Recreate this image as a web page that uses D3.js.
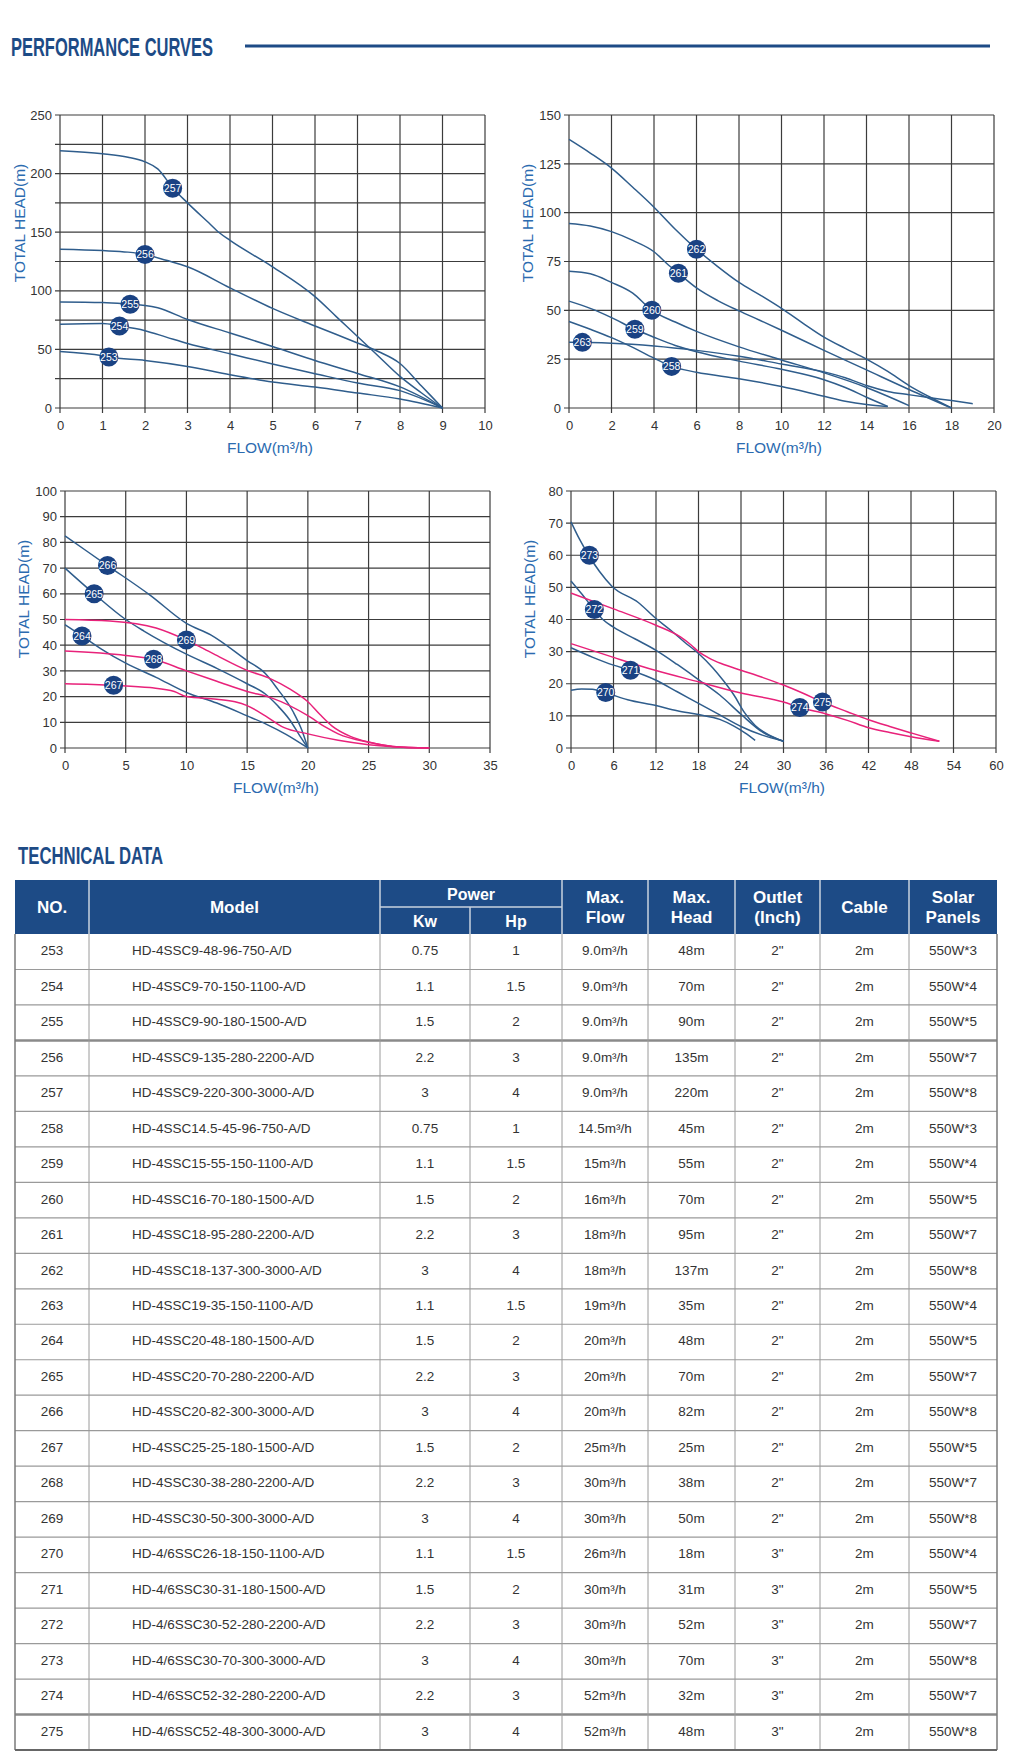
<!DOCTYPE html>
<html><head><meta charset="utf-8">
<script src="https://cdn.jsdelivr.net/npm/d3@7/dist/d3.min.js"></script>
<style>body{margin:0;background:#fff}svg{display:block}</style>
</head><body>
<script>
// ---------- DATA ----------
// Chart 1 (flow 0-10, head 0-250)
const c253 = [[0,48.3],[1,44.6],[1.15,43.5],[2,40.6],[3,35.5],[4,28.4],[5,22.2],[6,17.9],[7,12.8],[8,7.7],[9,0]];
const c254 = [[0,71.5],[1,72],[1.4,70],[2,66],[2.5,60.5],[3,55],[4,46.3],[5,37.5],[6,29.3],[7,21.3],[8,14.8],[9,0]];
const c255 = [[0,90.5],[1,90],[1.65,88.5],[2,87.5],[2.3,85.5],[3,75.5],[4,64],[5,52.5],[6,40.5],[7,29.5],[8,18],[9,0]];
const c256 = [[0,135.5],[1,134.3],[1.6,133],[2,131],[2.5,126],[3,120.5],[4,102.5],[5,85],[6,70],[7,55.5],[7.5,48],[8,38],[8.5,19],[9,0]];
const c257 = [[0,219.5],[1,217],[1.6,214],[2,210],[2.3,204],[2.65,188],[3,175],[3.5,158],[3.75,149.5],[4,143],[5,120.5],[6,95],[6.5,78],[7,61],[7.5,44],[8,27],[8.5,13],[9,0]];
// Chart 2 (flow 0-20, head 0-150)
const c258 = [[0,44.3],[1,40.3],[2,36],[3,31],[4,25.5],[4.83,21.3],[6,18.3],[8,15],[10,11],[12,6],[13,3.5],[14,1.8],[15,0.8]];
const c259 = [[0,54.7],[1,51],[2,46.3],[3.1,40.3],[4,36.2],[5,32],[6,28.8],[8,24],[10,19.8],[12,14.5],[13,10.5],[14,5.5],[15,0.8]];
const c260 = [[0,70],[1,68.7],[2,64.3],[3,58.8],[3.9,50],[5,44],[6,39.2],[8,31.3],[10,24.6],[12,18],[14,10.5],[15,6],[16,1.2]];
const c261 = [[0,94.5],[1,93.2],[2,90.3],[3,85.8],[4,80],[4.6,74],[5.15,69],[6,61.5],[7,55],[8,49.7],[9,44.8],[10,39.8],[12,29.5],[14,19.5],[16,9.5],[18,0]];
const c262 = [[0,137.5],[1,130.5],[2,122.8],[3,113],[4,102.8],[5,91.5],[6,81.3],[7,72.4],[8,64.3],[9,57.8],[10,51],[11,43.5],[12,36.3],[13,30.5],[14,25],[15,18.7],[16,11.5],[17,5.5],[18,0]];
const c263 = [[0,33.6],[1,33.5],[2,33.2],[4,31.8],[6,29.5],[8,26.5],[10,22.5],[12,18.5],[13,15.5],[14,11.5],[15,8.5],[16,6.8],[17,5.2],[18,3.8],[19,2.2]];
// Chart 3 (flow 0-35, head 0-100)
const c264 = [[0,48],[1.4,43.6],[3,38.5],[5,33],[7.5,27.5],[10,21.6],[12.5,17.5],[15,12.5],[16.6,9.2],[18.2,5.3],[20,0]];
const c265 = [[0,70],[2.4,60],[5,50],[6.5,45.5],[10,36.5],[12.5,31],[15,25],[16.5,21],[17.5,16.5],[18.5,11],[19.3,5],[20,0]];
const c266 = [[0,82.5],[3.5,71],[7,59.5],[10,48.5],[12,44],[15,34],[16.5,29],[17.5,23],[18.8,14],[19.5,7],[20,0]];
const c267 = [[0,25],[4,24.4],[7,23.5],[9,22],[10,20],[12.5,19],[14,18],[15,16.5],[16.5,12.5],[18,8],[20,5.5],[22.5,3],[25,1.3],[27,0.5],[30,0]];
const c268 = [[0,37.7],[5,36],[7.3,34.5],[10,30],[12.5,26],[15,22],[17,19.5],[20,12.6],[21.5,8],[22.5,5.5],[25,2.2],[27,0.6],[30,0]];
const c269 = [[0,50],[3.7,49.4],[7.5,46.7],[10,42],[12.2,36.7],[15,30.2],[16.9,27],[18.5,23],[20,18],[21,13],[22,8.5],[23.5,4.5],[25,2.3],[27,0.6],[30,0]];
// Chart 4 (flow 0-60, head 0-80)
const c270 = [[0,18],[1.5,18.4],[3,18.3],[4.9,17.2],[8,15],[12,13.2],[15,11.6],[18,10.4],[21,8.9],[23,6.8],[24.5,4.8],[26,2.4]];
const c271 = [[0,31.2],[3,28.3],[6,25.8],[8.4,24.2],[12,21.1],[15,17.5],[18,13.9],[21,10.3],[24,6.7],[27,4],[30,2.1]];
const c272 = [[0,52],[1.5,48],[3.3,43],[4.5,40],[6,37.6],[9,34],[12,30.4],[15,26],[18,21.3],[21,16.5],[24,10.5],[27,5],[30,2.1]];
const c273 = [[0,70.4],[1.2,65],[2.5,60],[4,55],[5.8,50.3],[9.5,45.3],[12,40.3],[14,36.8],[16,33],[18,29.4],[20,25],[21.5,21],[23,16.5],[24.5,11],[26,7],[28,4],[30,2.1]];
const c274 = [[0,32.5],[6,28.2],[12,24.1],[18,20.6],[24,17.1],[30,14.3],[32.3,12.6],[36,10.6],[39,8.6],[42,6.3],[45,4.8],[48,3.5],[52,2.1]];
const c275 = [[0,48.2],[6,43.3],[12,38.2],[15.5,34.5],[17,32],[18,30],[19.5,28],[21.2,26.3],[24,24.2],[27,22],[30,19.6],[33,16.8],[35.5,14.3],[39,11.3],[42,8.8],[45,6.7],[48,4.7],[52,2.1]];

// curve label bubbles: [model no, flow, head]
const labels1 = [[257,2.65,187.5],[256,2.0,131],[255,1.65,88.5],[254,1.4,70],[253,1.15,43.5]];
const labels2 = [[262,6.0,81.3],[261,5.15,69],[260,3.9,50],[259,3.1,40.3],[263,0.63,33.6],[258,4.83,21.3]];
const labels3 = [[266,3.5,71],[265,2.4,60],[264,1.4,43.6],[269,10,42],[268,7.3,34.5],[267,4,24.4]];
const labels4 = [[273,2.6,60],[272,3.3,43.1],[271,8.4,24.2],[270,4.9,17.3],[274,32.3,12.6],[275,35.5,14.3]];

// axis ticks
const xTicks1 = [0,1,2,3,4,5,6,7,8,9,10];
const yGrid1 = [0,25,50,75,100,125,150,175,200,225,250];
const yTicks1 = [0,50,100,150,200,250];
const xTicks2 = [0,2,4,6,8,10,12,14,16,18,20];
const yTicks2 = [0,25,50,75,100,125,150];
const xTicks3 = [0,5,10,15,20,25,30,35];
const yTicks3 = [0,10,20,30,40,50,60,70,80,90,100];
const xTicks4 = [0,6,12,18,24,30,36,42,48,54,60];
const yTicks4 = [0,10,20,30,40,50,60,70,80];

// table columns
const tableNo = [253,254,255,256,257,258,259,260,261,262,263,264,265,266,267,268,269,270,271,272,273,274,275];
const tableModel = ["HD-4SSC9-48-96-750-A/D","HD-4SSC9-70-150-1100-A/D","HD-4SSC9-90-180-1500-A/D","HD-4SSC9-135-280-2200-A/D","HD-4SSC9-220-300-3000-A/D","HD-4SSC14.5-45-96-750-A/D","HD-4SSC15-55-150-1100-A/D","HD-4SSC16-70-180-1500-A/D","HD-4SSC18-95-280-2200-A/D","HD-4SSC18-137-300-3000-A/D","HD-4SSC19-35-150-1100-A/D","HD-4SSC20-48-180-1500-A/D","HD-4SSC20-70-280-2200-A/D","HD-4SSC20-82-300-3000-A/D","HD-4SSC25-25-180-1500-A/D","HD-4SSC30-38-280-2200-A/D","HD-4SSC30-50-300-3000-A/D","HD-4/6SSC26-18-150-1100-A/D","HD-4/6SSC30-31-180-1500-A/D","HD-4/6SSC30-52-280-2200-A/D","HD-4/6SSC30-70-300-3000-A/D","HD-4/6SSC52-32-280-2200-A/D","HD-4/6SSC52-48-300-3000-A/D"];
const tableKw = ["0.75","1.1","1.5","2.2","3","0.75","1.1","1.5","2.2","3","1.1","1.5","2.2","3","1.5","2.2","3","1.1","1.5","2.2","3","2.2","3"];
const tableHp = ["1","1.5","2","3","4","1","1.5","2","3","4","1.5","2","3","4","2","3","4","1.5","2","3","4","3","4"];
const tableFlow = ["9.0m³/h","9.0m³/h","9.0m³/h","9.0m³/h","9.0m³/h","14.5m³/h","15m³/h","16m³/h","18m³/h","18m³/h","19m³/h","20m³/h","20m³/h","20m³/h","25m³/h","30m³/h","30m³/h","26m³/h","30m³/h","30m³/h","30m³/h","52m³/h","52m³/h"];
const tableHead = ["48m","70m","90m","135m","220m","45m","55m","70m","95m","137m","35m","48m","70m","82m","25m","38m","50m","18m","31m","52m","70m","32m","48m"];
const tableOutlet = ["2\"","2\"","2\"","2\"","2\"","2\"","2\"","2\"","2\"","2\"","2\"","2\"","2\"","2\"","2\"","2\"","2\"","3\"","3\"","3\"","3\"","3\"","3\""];
const tableCable = tableNo.map(() => "2m");
const tableSolar = ["550W*3","550W*4","550W*5","550W*7","550W*8","550W*3","550W*4","550W*5","550W*7","550W*8","550W*4","550W*5","550W*7","550W*8","550W*5","550W*7","550W*8","550W*4","550W*5","550W*7","550W*8","550W*7","550W*8"];

// ---------- DRAWING ----------
const W = 1009, H = 1764;
const NAVY = "#1d4b86", BLUE = "#2f5d8c", PINK = "#e8227a", TITLEBLUE = "#2b6bb0";
const svg = d3.select("body").append("svg").attr("width", W).attr("height", H);

// Section title
svg.append("text").attr("x", 11).attr("y", 56).text("PERFORMANCE CURVES")
  .attr("font-family", "Liberation Sans Narrow, Arial Narrow, sans-serif").attr("font-weight", "bold")
  .attr("font-size", 25).attr("fill", NAVY).attr("textLength", 202).attr("lengthAdjust", "spacingAndGlyphs");
svg.append("line").attr("x1", 245).attr("x2", 990).attr("y1", 46).attr("y2", 46)
  .attr("stroke", NAVY).attr("stroke-width", 3);

const charts = [
  {left:60, right:485, top:115, bottom:408, xMax:10, yMax:250, xTicks:xTicks1, yGrid:yGrid1, yTicks:yTicks1,
   series:[[c253,BLUE],[c254,BLUE],[c255,BLUE],[c256,BLUE],[c257,BLUE]], labels:labels1, ytx:19, yty:223, xtx:270, xty:447},
  {left:569, right:994, top:115, bottom:408, xMax:20, yMax:150, xTicks:xTicks2, yGrid:yTicks2, yTicks:yTicks2,
   series:[[c258,BLUE],[c259,BLUE],[c260,BLUE],[c261,BLUE],[c262,BLUE],[c263,BLUE]], labels:labels2, ytx:527, yty:223, xtx:779, xty:447},
  {left:65, right:490, top:491, bottom:748, xMax:35, yMax:100, xTicks:xTicks3, yGrid:yTicks3, yTicks:yTicks3,
   series:[[c264,BLUE],[c265,BLUE],[c266,BLUE],[c267,PINK],[c268,PINK],[c269,PINK]], labels:labels3, ytx:23, yty:599, xtx:276, xty:787},
  {left:571, right:996, top:491, bottom:748, xMax:60, yMax:80, xTicks:xTicks4, yGrid:yTicks4, yTicks:yTicks4,
   series:[[c270,BLUE],[c271,BLUE],[c272,BLUE],[c273,BLUE],[c274,PINK],[c275,PINK]], labels:labels4, ytx:529, yty:599, xtx:782, xty:787}
];

charts.forEach(cfg => {
  const x = d3.scaleLinear().domain([0, cfg.xMax]).range([cfg.left, cfg.right]);
  const y = d3.scaleLinear().domain([0, cfg.yMax]).range([cfg.bottom, cfg.top]);
  const g = svg.append("g");
  g.selectAll(".hg").data(cfg.yGrid).join("line")
    .attr("x1", cfg.left - 5).attr("x2", cfg.right).attr("y1", d => y(d)).attr("y2", d => y(d))
    .attr("stroke", "#3c3c3c").attr("stroke-width", 1.2);
  g.selectAll(".vg").data(cfg.xTicks).join("line")
    .attr("y1", cfg.top).attr("y2", cfg.bottom + 5).attr("x1", d => x(d)).attr("x2", d => x(d))
    .attr("stroke", "#3c3c3c").attr("stroke-width", 1.2);

  const ya = g.append("g").attr("transform", `translate(${cfg.left},0)`)
    .call(d3.axisLeft(y).tickValues(cfg.yTicks).tickSize(0).tickPadding(8).tickFormat(d3.format("d")));
  ya.select(".domain").remove();
  ya.selectAll("text").attr("font-size", 13).attr("font-family", "Liberation Sans, Arial, sans-serif").attr("fill", "#333");
  const xa = g.append("g").attr("transform", `translate(0,${cfg.bottom})`)
    .call(d3.axisBottom(x).tickValues(cfg.xTicks).tickSize(0).tickPadding(13).tickFormat(d3.format("d")));
  xa.select(".domain").remove();
  xa.selectAll("text").attr("font-size", 13).attr("font-family", "Liberation Sans, Arial, sans-serif").attr("fill", "#333");

  g.append("text").attr("transform", `translate(${cfg.ytx},${cfg.yty}) rotate(-90)`)
    .attr("text-anchor", "middle").attr("dominant-baseline", "central")
    .attr("font-family", "Liberation Sans, Arial, sans-serif").attr("font-size", 15.5).attr("fill", TITLEBLUE)
    .text("TOTAL HEAD(m)");
  g.append("text").attr("x", cfg.xtx).attr("y", cfg.xty)
    .attr("text-anchor", "middle").attr("dominant-baseline", "central")
    .attr("font-family", "Liberation Sans, Arial, sans-serif").attr("font-size", 15.5).attr("fill", TITLEBLUE)
    .text("FLOW(m³/h)");

  const line = d3.line().x(d => x(d[0])).y(d => y(d[1])).curve(d3.curveMonotoneX);
  g.selectAll(".curve").data(cfg.series).join("path")
    .attr("d", d => line(d[0])).attr("fill", "none").attr("stroke", d => d[1]).attr("stroke-width", 1.5);

  const lb = g.selectAll(".lbl").data(cfg.labels).join("g")
    .attr("transform", d => `translate(${x(d[1])},${y(d[2])})`);
  lb.append("circle").attr("r", 9.5).attr("fill", "#1a4283");
  lb.append("text").text(d => d[0]).attr("text-anchor", "middle").attr("dy", "0.36em")
    .attr("font-family", "Liberation Sans Narrow, Arial Narrow, sans-serif").attr("font-size", 10.5)
    .attr("fill", "#fff");
});

// ---------- TABLE ----------
svg.append("text").attr("x", 18).attr("y", 864).text("TECHNICAL DATA")
  .attr("font-family", "Liberation Sans Narrow, Arial Narrow, sans-serif").attr("font-weight", "bold")
  .attr("font-size", 23).attr("fill", NAVY).attr("textLength", 145).attr("lengthAdjust", "spacingAndGlyphs");

const colX = [15, 89, 380, 470, 562, 648, 735, 820, 909, 997];
const hTop = 880, hMid = 907, hBot = 934;
const rowH = (1750 - hBot) / tableNo.length;
const tg = svg.append("g");
tg.append("rect").attr("x", colX[0]).attr("y", hTop).attr("width", colX[9] - colX[0]).attr("height", hBot - hTop).attr("fill", NAVY);
colX.slice(1, 9).forEach((cx, i) => {
  const y1 = (i + 1 === 3) ? hMid : hTop;
  tg.append("line").attr("x1", cx).attr("x2", cx).attr("y1", y1).attr("y2", hBot).attr("stroke", "#c9d2de").attr("stroke-width", 1.5);
});
tg.append("line").attr("x1", colX[2]).attr("x2", colX[4]).attr("y1", hMid).attr("y2", hMid).attr("stroke", "#c9d2de").attr("stroke-width", 1.5);

const hdrFont = "Liberation Sans, Arial, sans-serif";
function hText(txt, cx, cy, size) {
  tg.append("text").attr("x", cx).attr("y", cy).attr("text-anchor", "middle").attr("dominant-baseline", "central")
    .attr("font-family", hdrFont).attr("font-weight", "bold").attr("font-size", size || 17).attr("fill", "#fff").text(txt);
}
const mid = i => (colX[i] + colX[i + 1]) / 2;
hText("NO.", mid(0), 907);
hText("Model", mid(1), 907);
hText("Power", (colX[2] + colX[4]) / 2, 894, 16);
hText("Kw", mid(2), 921, 16);
hText("Hp", mid(3), 921, 16);
hText("Max.", mid(4), 897); hText("Flow", mid(4), 917);
hText("Max.", mid(5), 897); hText("Head", mid(5), 917);
hText("Outlet", mid(6), 897); hText("(Inch)", mid(6), 917);
hText("Cable", mid(7), 907);
hText("Solar", mid(8), 897); hText("Panels", mid(8), 917);

const columns = [tableNo, tableModel, tableKw, tableHp, tableFlow, tableHead, tableOutlet, tableCable, tableSolar];
const rows = tableNo.map((n, i) => i);
const rg = tg.selectAll(".row").data(rows).join("g")
  .attr("transform", i => `translate(0,${hBot + i * rowH})`);
columns.forEach((col, ci) => {
  rg.append("text")
    .attr("x", ci === 1 ? 132 : mid(ci)).attr("y", rowH / 2 - 1)
    .attr("text-anchor", ci === 1 ? "start" : "middle").attr("dominant-baseline", "central")
    .attr("font-family", "Liberation Sans, Arial, sans-serif").attr("font-size", 13.5).attr("fill", "#333")
    .text(i => col[i]);
});
rows.slice(1).forEach(i => {
  const thick = (tableNo[i] === 256 || tableNo[i] === 275);
  tg.append("line").attr("x1", colX[0]).attr("x2", colX[9])
    .attr("y1", hBot + i * rowH).attr("y2", hBot + i * rowH)
    .attr("stroke", thick ? "#8a8a8a" : "#9a9a9a").attr("stroke-width", thick ? 2.5 : 1.2);
});
colX.forEach((cx, i) => {
  const edge = (i === 0 || i === 9);
  tg.append("line").attr("x1", cx).attr("x2", cx).attr("y1", hBot).attr("y2", 1750)
    .attr("stroke", edge ? "#7a7a7a" : "#9a9a9a").attr("stroke-width", edge ? 1.5 : 1);
});
tg.append("line").attr("x1", colX[0]).attr("x2", colX[9]).attr("y1", 1750).attr("y2", 1750)
  .attr("stroke", "#666").attr("stroke-width", 2);
</script>
</body></html>
